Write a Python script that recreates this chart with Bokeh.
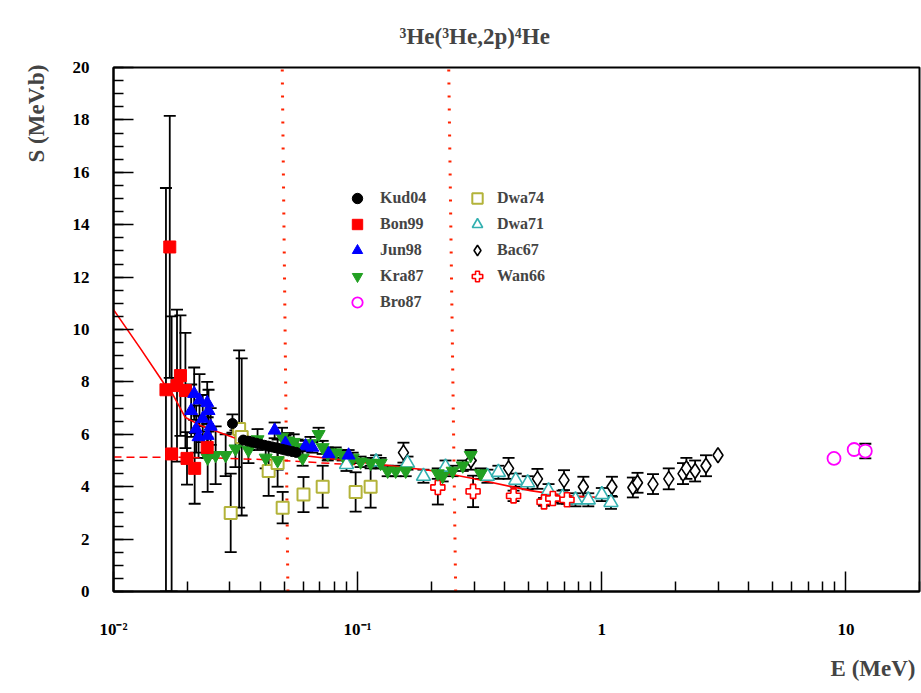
from bokeh.plotting import figure
from bokeh.models import (ColumnDataSource, Whisker, TeeHead, FixedTicker,
                          SingleIntervalTicker, Title, Legend, LegendItem)
from bokeh.embed import file_html
from bokeh.resources import INLINE

# ---- data: E (MeV), S (MeV b), error ----
kud04_e = [0.0307, 0.0340, 0.0355, 0.0370, 0.0385, 0.0400, 0.0415, 0.0430, 0.0445,
           0.0460, 0.0475, 0.0490, 0.0505, 0.0520, 0.0540, 0.0560]
kud04_s = [6.41, 5.78, 5.74, 5.70, 5.66, 5.62, 5.58, 5.55, 5.52,
           5.49, 5.46, 5.43, 5.40, 5.37, 5.34, 5.31]
kud04_err = [0.35, 0, 0, 0, 0, 0, 0, 0, 0, 0, 0, 0, 0, 0, 0, 0]

bon99_e = [0.0164, 0.0170, 0.0173, 0.0182, 0.0188, 0.0197, 0.0200, 0.0215, 0.0242]
bon99_s = [7.70, 13.15, 5.25, 7.86, 8.24, 7.67, 5.08, 4.70, 5.50]
bon99_err = [7.70, 5.00, 5.25, 2.90, 2.30, 2.20, 1.00, 1.35, 0.40]

jun98_e = [0.0208, 0.0214, 0.0218, 0.0223, 0.0225, 0.0232, 0.0242, 0.0245, 0.0243,
           0.0250, 0.0457, 0.0506, 0.0612, 0.0652, 0.0760, 0.0918]
jun98_s = [6.90, 7.55, 6.20, 5.90, 7.30, 6.60, 7.20, 6.90, 5.95,
           6.30, 6.15, 5.65, 5.55, 5.50, 5.25, 5.20]
jun98_err = [1.0, 1.0, 0.9, 0.8, 1.0, 0.9, 0.8, 0.8, 0.7,
             0.7, 0.3, 0.3, 0.2, 0.2, 0.2, 0.2]

kra87_e = [0.0243, 0.0262, 0.0288, 0.0316, 0.0357, 0.0389, 0.0420, 0.0470, 0.0490,
           0.0520, 0.0547, 0.0568, 0.0595, 0.0641, 0.0692, 0.0719, 0.0754, 0.0813,
           0.0868, 0.0954, 0.1028, 0.1130, 0.1242, 0.1327, 0.1431, 0.1573, 0.2128,
           0.2229, 0.2449, 0.2693, 0.2904, 0.3192]
kra87_s = [5.10, 5.20, 5.20, 5.45, 5.40, 5.80, 5.10, 5.00, 5.90,
           5.75, 5.70, 5.50, 5.10, 5.65, 6.00, 5.50, 5.25, 5.30,
           5.20, 5.10, 4.95, 4.90, 4.90, 4.60, 4.60, 4.60, 4.50,
           4.40, 4.60, 4.80, 5.20, 4.50]
kra87_err = [1.30, 1.10, 0.80, 0.70, 0.50, 0.40, 0.40, 0.35, 0.35,
             0.30, 0.30, 0.30, 0.30, 0.25, 0.25, 0.25, 0.25, 0.20,
             0.20, 0.20, 0.20, 0.20, 0.20, 0.20, 0.20, 0.20, 0.20,
             0.20, 0.20, 0.20, 0.20, 0.20]

bro87_e = [8.93, 10.8, 12.0]
bro87_s = [5.08, 5.42, 5.36]
bro87_err = [0, 0, 0.28]

dwa74_e = [0.0302, 0.0327, 0.0335, 0.0432, 0.0470, 0.0493, 0.0600, 0.0719, 0.0981, 0.1130]
dwa74_s = [3.00, 6.20, 5.90, 4.60, 4.90, 3.20, 3.70, 4.00, 3.80, 4.00]
dwa74_err = [1.50, 3.00, 3.00, 0.95, 0.90, 0.60, 0.67, 0.80, 0.75, 0.80]

dwa71_e = [0.090, 0.119, 0.160, 0.186, 0.229, 0.340, 0.377, 0.444, 0.497, 0.605,
           0.690, 0.780, 0.880, 1.000, 1.090]
dwa71_s = [4.85, 4.95, 4.90, 4.40, 4.75, 4.40, 4.55, 4.25, 4.15, 3.85,
           3.60, 3.50, 3.50, 3.70, 3.40]
dwa71_err = [0.25] * 15

bac67_e = [0.154, 0.291, 0.415, 0.545, 0.700, 0.840, 1.100, 1.340, 1.400, 1.620,
           1.880, 2.150, 2.220, 2.410, 2.670, 2.990]
bac67_s = [5.30, 5.00, 4.70, 4.30, 4.25, 4.00, 4.00, 3.97, 4.15, 4.10,
           4.30, 4.50, 4.70, 4.60, 4.80, 5.20]
bac67_err = [0.38, 0.35, 0.40, 0.38, 0.38, 0.38, 0.38, 0.38, 0.38, 0.38,
             0.40, 0.40, 0.40, 0.40, 0.40, 0]

wan66_e = [0.213, 0.297, 0.435, 0.580, 0.630, 0.720]
wan66_s = [3.97, 3.82, 3.65, 3.42, 3.55, 3.50]
wan66_err = [0.65, 0.60, 0.20, 0.15, 0.15, 0.15]

# screened fit (solid) and bare S-factor (dashed)
fit_e = [0.0100, 0.0129, 0.0163, 0.0174, 0.0197, 0.0227, 0.0310, 0.0427, 0.0584,
         0.113, 0.199, 0.297, 0.51, 0.70, 0.99]
fit_s = [10.76, 9.27, 7.86, 7.56, 6.64, 6.34, 5.88, 5.45, 5.20,
         4.89, 4.62, 4.31, 3.85, 3.66, 3.59]
bare_e = [0.01, 0.02, 0.03, 0.045, 0.06, 0.08, 0.10]
bare_s = [5.13, 5.12, 5.08, 5.02, 4.95, 4.88, 4.84]

# Gamow-window boundaries (E at S=0 and S=20)
window_lo_e = [0.0518, 0.0491]
window_hi_e = [0.252, 0.236]
window_s = [0, 20]

x_ticks = [0.01, 0.1, 1, 10]
x_tick_labels = ["10\u207b\u00b2", "10\u207b\u00b9", "1", "10"]

FONT = "Liberation Serif"

p = figure(width=921, height=693, x_axis_type="log", x_range=(0.01, 20), y_range=(0, 20),
           output_backend="svg", toolbar_location=None,
           min_border_left=113, min_border_right=2, min_border_top=67, min_border_bottom=102)
p.grid.visible = False
p.outline_line_color = "black"
p.outline_line_width = 2
p.background_fill_color = "white"
p.border_fill_color = "white"

# titles in the side panels
p.title.text = "\u00b3He(\u00b3He,2p)\u2074He"
p.title.align = "left"
p.title.offset = 286
p.title.standoff = 38
p.title.text_font = FONT
p.title.text_font_style = "bold"
p.title.text_font_size = "23px"

p.add_layout(Title(text="E (MeV)", align="right", offset=4, standoff=25,
                   text_font=FONT, text_font_style="bold", text_font_size="23px"), "below")
p.add_layout(Title(text="S (MeV.b)", align="right", offset=-3, standoff=42,
                   text_font=FONT, text_font_style="bold", text_font_size="23px"), "left")

minor = []
for d in [0.01, 0.1, 1, 10]:
    for k in range(2, 10):
        if d * k <= 20:
            minor.append(d * k)
minor.append(20)

xa = p.xaxis[0]
xa.ticker = FixedTicker(ticks=x_ticks, minor_ticks=minor)
xa.major_label_overrides = {t: l for t, l in zip(x_ticks, x_tick_labels)}
ya = p.yaxis[0]
ya.ticker = SingleIntervalTicker(interval=2, num_minor_ticks=4)
for ax in (xa, ya):
    ax.axis_line_width = 2
    ax.major_tick_line_width = 1.5
    ax.minor_tick_line_width = 1.5
    ax.major_tick_in = 20
    ax.major_tick_out = 0
    ax.minor_tick_in = 10
    ax.minor_tick_out = 0
    ax.major_label_text_font = FONT
    ax.major_label_text_font_style = "bold"
    ax.major_label_text_font_size = "17px"
    ax.major_label_text_color = "black"
xa.major_label_standoff = 28
ya.major_label_standoff = 24

# dotted window lines
for we in (window_lo_e, window_hi_e):
    p.line(we, window_s, line_color="#ff2200", line_width=3, line_dash="2 11")

# fit curves
p.line(bare_e, bare_s, line_color="red", line_width=1.5, line_dash="8 5")
p.line(fit_e, fit_s, line_color="red", line_width=1.6)

datasets = [
    ("Kud04", kud04_e, kud04_s, kud04_err),
    ("Bon99", bon99_e, bon99_s, bon99_err),
    ("Jun98", jun98_e, jun98_s, jun98_err),
    ("Kra87", kra87_e, kra87_s, kra87_err),
    ("Bro87", bro87_e, bro87_s, bro87_err),
    ("Dwa74", dwa74_e, dwa74_s, dwa74_err),
    ("Dwa71", dwa71_e, dwa71_s, dwa71_err),
    ("Bac67", bac67_e, bac67_s, bac67_err),
    ("Wan66", wan66_e, wan66_s, wan66_err),
]

# error bars first
for name, e, s, err in datasets:
    be = [a for a, d in zip(e, err) if d > 0]
    lo = [b - d for b, d in zip(s, err) if d > 0]
    hi = [b + d for b, d in zip(s, err) if d > 0]
    if not be:
        continue
    src = ColumnDataSource(dict(base=be, lower=lo, upper=hi))
    w = Whisker(source=src, base="base", lower="lower", upper="upper", dimension="height",
                line_color="black", line_width=1.8,
                upper_head=TeeHead(size=12, line_color="black", line_width=1.8),
                lower_head=TeeHead(size=12, line_color="black", line_width=1.8))
    p.add_layout(w)

styles = {
    "Kud04": dict(marker="circle", size=10, fill_color="black", line_color="black"),
    "Bon99": dict(marker="square", size=12, fill_color="red", line_color="red"),
    "Jun98": dict(marker="triangle", size=13, fill_color="blue", line_color="blue"),
    "Kra87": dict(marker="inverted_triangle", size=13, fill_color="#22a022", line_color="#22a022"),
    "Bro87": dict(marker="circle", size=13, fill_color="white", line_color="#ff00ff", line_width=1.8),
    "Dwa74": dict(marker="square", size=12, fill_color="white", line_color="#b3b33a", line_width=2),
    "Dwa71": dict(marker="triangle", size=14, fill_color="white", line_color="#33b0b0", line_width=1.6),
    "Bac67": dict(marker="diamond", size=15, fill_color="white", line_color="black", line_width=1.6),
    "Wan66": dict(marker="plus", size=14, fill_color="white", line_color="red", line_width=1.6),
}

renderers = {}
draw_order = ["Bac67", "Dwa71", "Wan66", "Dwa74", "Kra87", "Bon99", "Jun98", "Kud04", "Bro87"]
lookup = {d[0]: d for d in datasets}
for name in draw_order:
    _, e, s, _ = lookup[name]
    renderers[name] = p.scatter(e, s, **styles[name])


def make_legend(names, loc, standoff):
    lg = Legend(items=[LegendItem(label=n, renderers=[renderers[n]]) for n in names],
                location=loc, padding=0, margin=0, spacing=0,
                glyph_width=26, glyph_height=26, label_height=26, label_standoff=standoff,
                label_text_font=FONT, label_text_font_style="bold",
                label_text_font_size="16px", label_text_baseline="middle",
                border_line_alpha=0, background_fill_alpha=0)
    p.add_layout(lg)


make_legend(["Kud04", "Bon99", "Jun98", "Kra87", "Bro87"], (231, 276), 10)
make_legend(["Dwa74", "Dwa71", "Bac67", "Wan66"], (351, 302), 7)

open("out.html", "w").write(file_html(p, INLINE))
